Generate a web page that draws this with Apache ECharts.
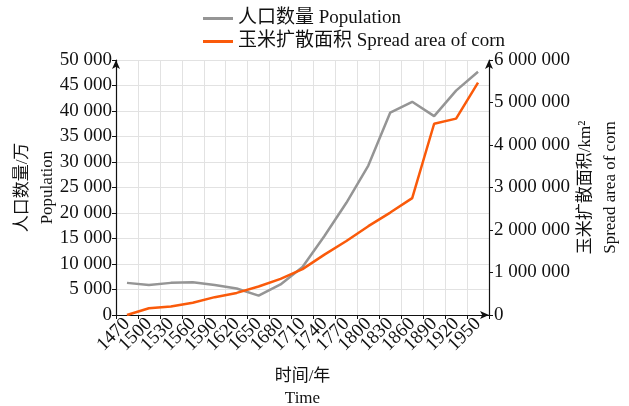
<!DOCTYPE html>
<html>
<head>
<meta charset="utf-8">
<script src="https://cdn.jsdelivr.net/npm/echarts@6/dist/echarts.min.js"></script>
<style>html,body{margin:0;padding:0;background:#fff;}#c{width:629px;height:406px;}</style>
</head>
<body>
<div id="c"></div>
<script>
const years = ['1470','1500','1530','1560','1590','1620','1650','1680','1710','1740','1770','1800','1830','1860','1890','1920','1950'];
const population = [6300, 5900, 6300, 6400, 5900, 5200, 3800, 6000, 9400, 15500, 22000, 29300, 39700, 41800, 39000, 44000, 47700];
const cornArea = [0, 160000, 200000, 290000, 420000, 520000, 670000, 850000, 1080000, 1420000, 1740000, 2090000, 2410000, 2750000, 4500000, 4620000, 5470000];
const seriesNames = ['人口数量 Population', '玉米扩散面积 Spread area of corn'];

const FONT = '"Liberation Serif", "Times New Roman", "Noto Sans CJK SC", serif';
const fmt = v => String(v).replace(/\B(?=(\d{3})+(?!\d))/g, ' ');
const axisLine = { show: true, lineStyle: { color: '#111', width: 1.2 }, symbol: ['none', 'arrow'], symbolSize: [6, 9] };

const chart = echarts.init(document.getElementById('c'), null, { renderer: 'canvas' });
chart.setOption({
  animation: false,
  backgroundColor: '#fff',
  textStyle: { fontFamily: FONT },
  legend: {
    orient: 'vertical', left: 198, top: 4, itemGap: 4, itemWidth: 30, itemHeight: 3, icon: 'rect',
    textStyle: { fontFamily: FONT, fontSize: 19, color: '#111', padding: [0, 0, 0, 0] },
    data: seriesNames
  },
  grid: { left: 116, right: 140, top: 60, bottom: 91, containLabel: false, outerBoundsMode: 'none' },
  xAxis: {
    type: 'category', data: years, boundaryGap: true,
    name: '时间/年\nTime', nameLocation: 'middle', nameGap: 51, nameMoveOverlap: false,
    nameTextStyle: { fontFamily: FONT, fontSize: 17, color: '#111', lineHeight: 22 },
    axisLine: axisLine,
    axisTick: { show: true, length: 4, lineStyle: { color: '#111' } },
    axisLabel: { interval: 0, rotate: 45, margin: 6, fontSize: 19, color: '#111', fontFamily: FONT },
    splitLine: { show: true, lineStyle: { color: '#e2e2e2', width: 1 } }
  },
  yAxis: [
    {
      type: 'value', min: 0, max: 50000, interval: 5000, position: 'left',
      name: '人口数量/万\nPopulation', nameLocation: 'middle', nameRotate: 90, nameGap: 56, nameMoveOverlap: false,
      nameTextStyle: { fontFamily: FONT, fontSize: 17, color: '#111', lineHeight: 25 },
      axisLine: axisLine,
      axisTick: { show: true, length: 4, lineStyle: { color: '#111' } },
      axisLabel: { margin: 4, fontSize: 19, color: '#111', fontFamily: FONT, formatter: fmt },
      splitLine: { show: true, lineStyle: { color: '#e2e2e2', width: 1 } }
    },
    {
      type: 'value', min: 0, max: 6000000, interval: 1000000, position: 'right',
      name: '玉米扩散面积/km²\nSpread area of corn', nameLocation: 'middle', nameRotate: 90, nameGap: 84, nameMoveOverlap: false,
      nameTextStyle: { fontFamily: FONT, fontSize: 17, color: '#111', lineHeight: 25 },
      axisLine: axisLine,
      axisTick: { show: true, length: 4, lineStyle: { color: '#111' } },
      axisLabel: { margin: 5, fontSize: 19, color: '#111', fontFamily: FONT, formatter: fmt },
      splitLine: { show: false }
    }
  ],
  series: [
    {
      name: seriesNames[0], type: 'line', yAxisIndex: 0, data: population,
      symbol: 'none', lineStyle: { color: '#959595', width: 2.5 }, itemStyle: { color: '#959595' }, z: 2
    },
    {
      name: seriesNames[1], type: 'line', yAxisIndex: 1, data: cornArea,
      symbol: 'none', lineStyle: { color: '#fa5a0a', width: 2.5 }, itemStyle: { color: '#fa5a0a' }, z: 3
    }
  ]
});
</script>
</body>
</html>
